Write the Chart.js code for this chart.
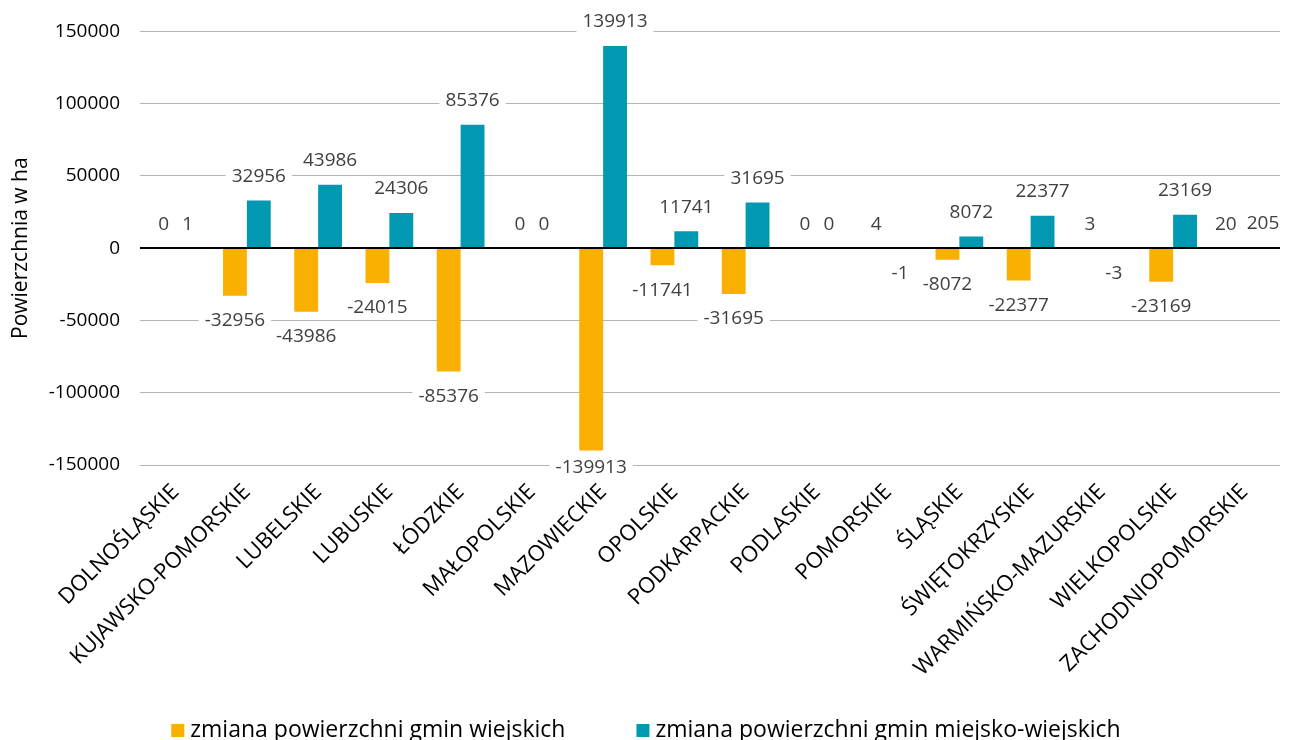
<!DOCTYPE html>
<html lang="pl">
<head>
<meta charset="utf-8">
<script src="https://cdn.jsdelivr.net/npm/chart.js@4.4.0/dist/chart.umd.min.js"></script>
<style>
  html, body { margin: 0; padding: 0; background: #fff; overflow: hidden; }
  #wrap { width: 1292px; height: 740px; position: relative; }
</style>
</head>
<body>
<div id="wrap"><canvas id="chart"></canvas></div>
<script>
// categories and series
const regions = ['DOLNOŚLĄSKIE', 'KUJAWSKO-POMORSKIE', 'LUBELSKIE', 'LUBUSKIE', 'ŁÓDZKIE',
    'MAŁOPOLSKIE', 'MAZOWIECKIE', 'OPOLSKIE', 'PODKARPACKIE', 'PODLASKIE', 'POMORSKIE',
    'ŚLĄSKIE', 'ŚWIĘTOKRZYSKIE', 'WARMIŃSKO-MAZURSKIE', 'WIELKOPOLSKIE', 'ZACHODNIOPOMORSKIE'];
const gminyWiejskie = [0, -32956, -43986, -24015, -85376, 0, -139913, -11741, -31695, 0, 4, -8072, -22377, 3, -23169, 20];
const gminyMiejskoWiejskie = [1, 32956, 43986, 24306, 85376, 0, 139913, 11741, 31695, 0, -1, 8072, 22377, -3, 23169, 205];
const seriesNames = ['zmiana powierzchni gmin wiejskich', 'zmiana powierzchni gmin miejsko-wiejskich'];
const seriesColors = ['#FAB000', '#0099B1'];
const yMin = -150000, yMax = 150000, yStep = 50000;

const FONT = '"Open Sans", "Noto Sans", sans-serif';

// zero line over the bars + value labels with white box
const valueLabels = {
    id: 'valueLabels',
    afterDatasetsDraw(chart) {
        const ctx = chart.ctx;
        const area = chart.chartArea;
        const y0 = Math.round(chart.scales.y.getPixelForValue(0));
        ctx.save();
        ctx.strokeStyle = '#000';
        ctx.lineWidth = 2;
        ctx.beginPath();
        ctx.moveTo(area.left, y0);
        ctx.lineTo(area.right, y0);
        ctx.stroke();

        ctx.font = '19px ' + FONT;
        ctx.textAlign = 'center';
        ctx.textBaseline = 'middle';
        const items = [];
        chart.data.datasets.forEach((ds, i) => {
            chart.getDatasetMeta(i).data.forEach((bar, j) => {
                const v = ds.data[j];
                const text = String(v);
                let y = v >= 0 ? bar.y - 24 : bar.y + 25;
                // keep labels of the longest bars close to the plot edges
                y = Math.min(y, area.bottom + 3);
                items.push({ j, text, x: bar.x, y, w: ctx.measureText(text).width });
            });
        });
        // push apart labels of one category that would collide
        regions.forEach((_, j) => {
            const pair = items.filter(it => it.j === j);
            if (pair.length === 2 && Math.abs(pair[0].y - pair[1].y) < 20) {
                const [a, b] = pair;
                const overlap = (a.x + a.w / 2 + 10) - (b.x - b.w / 2);
                if (overlap > 0) {
                    a.x -= overlap / 2;
                    b.x += overlap / 2;
                }
            }
        });
        items.forEach(it => {
            ctx.fillStyle = '#fff';
            ctx.fillRect(it.x - it.w / 2 - 6, it.y - 11, it.w + 12, 22);
        });
        ctx.fillStyle = '#404040';
        items.forEach(it => ctx.fillText(it.text, it.x, it.y));
        ctx.restore();
    }
};

// legend at the bottom, square marker close to its text
const bottomLegend = {
    id: 'bottomLegend',
    afterDraw(chart) {
        const ctx = chart.ctx;
        const box = 13, gap = 6, spacing = 71, baseline = 737;
        ctx.save();
        ctx.font = '23px ' + FONT;
        ctx.textBaseline = 'alphabetic';
        ctx.textAlign = 'left';
        const widths = chart.data.datasets.map(ds => ctx.measureText(ds.label).width);
        const total = widths.reduce((s, w) => s + box + gap + w, 0) + spacing * (widths.length - 1);
        let x = (chart.width - total) / 2;
        chart.data.datasets.forEach((ds, i) => {
            ctx.fillStyle = ds.backgroundColor;
            ctx.fillRect(x, baseline - box, box, box);
            ctx.fillStyle = '#000';
            ctx.fillText(ds.label, x + box + gap, baseline);
            x += box + gap + widths[i] + spacing;
        });
        ctx.restore();
    }
};

new Chart(document.getElementById('chart'), {
    type: 'bar',
    data: {
        labels: regions,
        datasets: [{
            label: seriesNames[0],
            data: gminyWiejskie,
            backgroundColor: seriesColors[0],
            categoryPercentage: 0.67,
            barPercentage: 1.0
        }, {
            label: seriesNames[1],
            data: gminyMiejskoWiejskie,
            backgroundColor: seriesColors[1],
            categoryPercentage: 0.67,
            barPercentage: 1.0
        }]
    },
    options: {
        responsive: true,
        maintainAspectRatio: false,
        animation: false,
        layout: { padding: { top: 31, right: 12, left: 0, bottom: 0 } },
        scales: {
            x: {
                grid: { display: false, drawTicks: false },
                border: { display: false },
                ticks: {
                    autoSkip: false,
                    maxRotation: 45,
                    minRotation: 45,
                    padding: 14,
                    color: '#000',
                    font: { family: FONT, size: 22 }
                },
                afterFit(scale) { scale.height = 275; }
            },
            y: {
                min: yMin,
                max: yMax,
                grid: {
                    drawTicks: false,
                    color: '#b3b3b3',
                    lineWidth: 1
                },
                border: { display: false },
                ticks: {
                    stepSize: yStep,
                    padding: 20,
                    color: '#000',
                    font: { family: FONT, size: 19 },
                    callback: v => String(v)
                },
                title: {
                    display: true,
                    text: 'Powierzchnia w ha',
                    color: '#000',
                    padding: { top: 8, bottom: 0 },
                    font: { family: FONT, size: 21 }
                },
                afterFit(scale) { scale.width = 140; }
            }
        },
        plugins: {
            legend: { display: false },
            tooltip: { enabled: false }
        }
    },
    plugins: [valueLabels, bottomLegend]
});
</script>
</body>
</html>
